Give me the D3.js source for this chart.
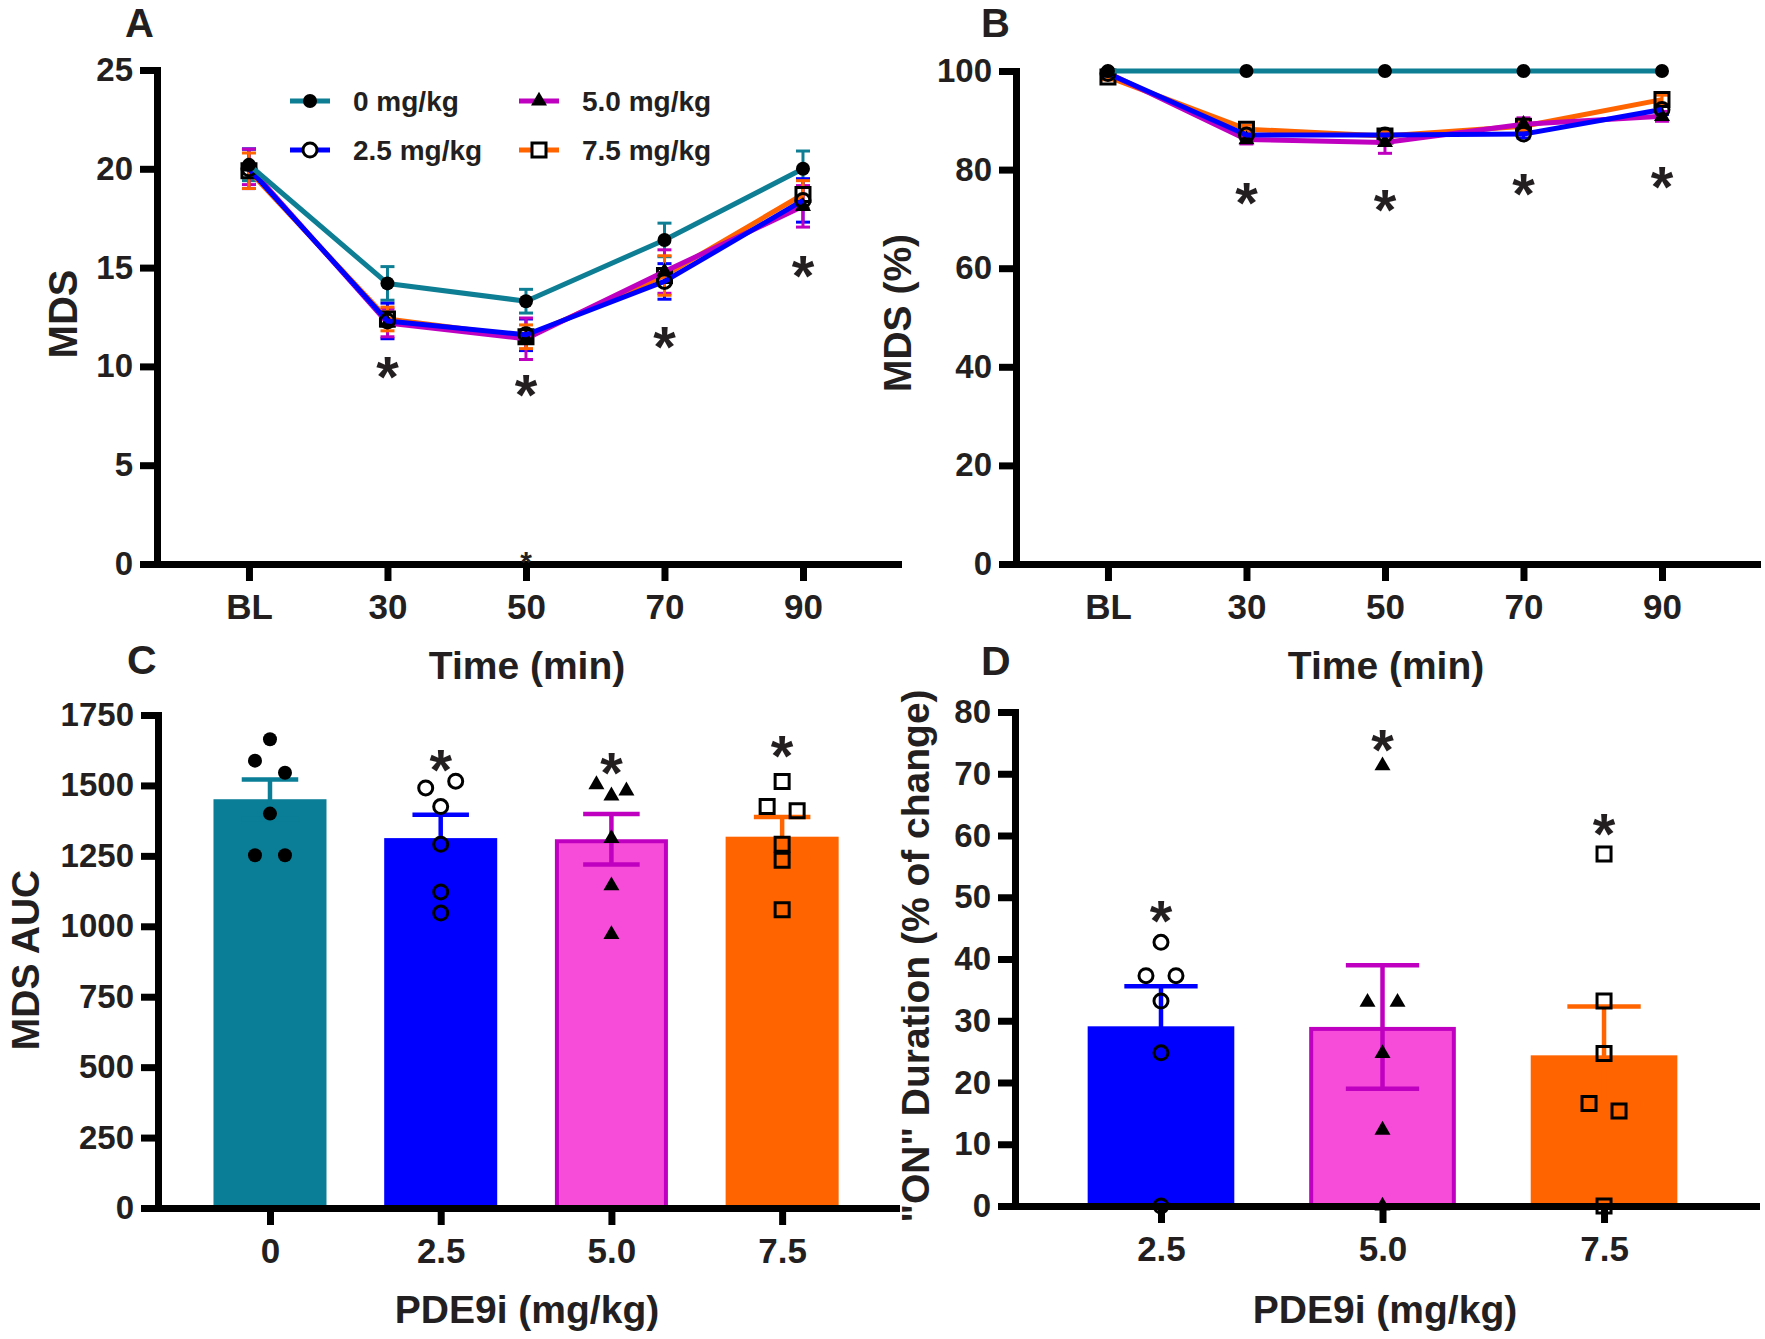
<!DOCTYPE html>
<html><head><meta charset="utf-8">
<script src="https://cdn.jsdelivr.net/npm/d3@7"></script>
<style>
body{margin:0;background:#fff;}
svg{display:block;background:#fff;}
</style></head><body>
<svg id="chart" width="1765" height="1339"></svg>
<script>
// ---------------- DATA ----------------
const timeLabels = ["BL", "30", "50", "70", "90"];
const seriesNames = ["0 mg/kg", "2.5 mg/kg", "5.0 mg/kg", "7.5 mg/kg"];

// Panel A: MDS (mean, SEM)
const mds0 = [20.2, 14.2, 13.3, 16.4, 20.0];
const mds0Sem = [0.8, 0.85, 0.6, 0.85, 0.9];
const mds25 = [20.0, 12.3, 11.6, 14.3, 18.4];
const mds25Sem = [1.0, 0.9, 0.8, 0.9, 1.1];
const mds50 = [20.1, 12.2, 11.4, 14.8, 18.1];
const mds50Sem = [0.9, 0.7, 1.05, 1.1, 1.05];
const mds75 = [19.9, 12.4, 11.5, 14.6, 18.7];
const mds75Sem = [0.9, 0.6, 0.6, 1.0, 0.7];
const mdsStars = [null, 10.1, 9.2, 11.6, 15.2];

// Panel B: MDS (%)
const pct0 = [100, 100, 100, 100, 100];
const pct0Sem = [0, 0, 0, 0, 0];
const pct25 = [99.5, 87.0, 87.0, 87.2, 92.2];
const pct25Sem = [0.5, 0.8, 1.0, 0.8, 1.0];
const pct50 = [99.6, 86.1, 85.5, 89.2, 90.8];
const pct50Sem = [0.4, 0.9, 2.2, 1.3, 1.0];
const pct75 = [98.8, 88.2, 86.8, 88.8, 94.2];
const pct75Sem = [0.6, 0.8, 1.0, 0.9, 0.9];
const pctStars = [null, 75.7, 74.3, 77.5, 79.0];

// Panel C: MDS AUC
const aucDoses = ["0", "2.5", "5.0", "7.5"];
const aucMean = [1451, 1313, 1309, 1318];
const aucSem = [70, 83, 90, 70];
const auc0 = [1664, 1588, 1545, 1400, 1252, 1252];
const auc25 = [1491, 1515, 1425, 1291, 1122, 1047];
const auc50 = [1503, 1463, 1481, 1312, 1144, 971];
const auc75 = [1514, 1425, 1410, 1291, 1234, 1059];
const aucStars = [null, 1598, 1590, 1647];

// Panel D: "ON" duration (% of change)
const onDoses = ["2.5", "5.0", "7.5"];
const onMean = [29.1, 29.0, 24.4];
const onSem = [6.5, 10.0, 7.9];
const on25 = [42.7, 37.3, 37.3, 33.2, 24.8, 0];
const on50 = [71.3, 33.0, 33.0, 24.7, 12.3, 0];
const on75 = [57.0, 33.2, 24.7, 16.6, 15.4, 0];
const onStars = [48.1, 75.9, 62.3];

// ---------------- STYLE ----------------
const FONT = '"Liberation Sans", Arial, Helvetica, sans-serif';
const TXT = "#231f20";
const C_TEAL = "#0d7e94", C_TEALBAR = "#0a7e96";
const C_BLUE = "#0000ff";
const C_MAG = "#c000c0", C_PINK = "#f74bd9";
const C_ORANGE = "#ff6400";
const AXW = 7;

const svg = d3.select("#chart");

function styleAxis(g, fs) {
  g.select(".domain").attr("stroke", "#000").attr("stroke-width", AXW).attr("stroke-linecap", "square");
  g.selectAll(".tick line").attr("stroke", "#000").attr("stroke-width", AXW);
  g.selectAll(".tick text").attr("font-size", fs).attr("font-family", FONT)
    .attr("font-weight", "bold").attr("fill", TXT);
}

function txt(x, y, s, fs, anchor, rot) {
  const t = svg.append("text").text(s).attr("font-family", FONT).attr("font-weight", "bold")
    .attr("font-size", fs).attr("fill", TXT).attr("text-anchor", anchor || "middle");
  if (rot) t.attr("transform", `translate(${x},${y}) rotate(${rot})`);
  else t.attr("x", x).attr("y", y);
  return t;
}

function star(g, cx, cy, fs) {
  fs = fs || 58;
  g.append("text").text("*").attr("x", cx).attr("y", cy + 0.56 * fs)
    .attr("font-family", FONT).attr("font-weight", "bold").attr("font-size", fs)
    .attr("fill", TXT).attr("text-anchor", "middle");
}

const symArea = { circle: Math.PI * 49, square: 196, triangle: Math.sqrt(3) / 4 * 256 };
function marker(g, type, filled, x, y, openFill) {
  const sym = type === "circle" ? d3.symbolCircle : type === "square" ? d3.symbolSquare : d3.symbolTriangle;
  const p = g.append("path").attr("d", d3.symbol().type(sym).size(symArea[type])())
    .attr("transform", `translate(${x},${y})`);
  if (filled) p.attr("fill", "#000");
  else p.attr("fill", openFill || "none").attr("stroke", "#000").attr("stroke-width", 3);
  return p;
}

// ---------------- TIME-COURSE PANELS ----------------
const seriesStyle = [
  { color: C_TEAL, type: "circle", filled: true },
  { color: C_BLUE, type: "circle", filled: false },
  { color: C_MAG, type: "triangle", filled: true },
  { color: C_ORANGE, type: "square", filled: false }
];

function timePanel(x0, x1, yBottom, yTop, ymax, yTicks, means, sems, stars) {
  const x = d3.scaleLinear().domain([-0.664, 4.686]).range([x0, x1]);
  const y = d3.scaleLinear().domain([0, ymax]).range([yBottom, yTop]);
  const g = svg.append("g");
  const capW = 14;
  means.forEach((m, si) => {
    m.forEach((v, i) => {
      const s = sems[si][i];
      if (!s) return;
      const cx = x(i);
      const eg = g.append("g").attr("stroke", seriesStyle[si].color).attr("stroke-width", 3);
      eg.append("line").attr("x1", cx).attr("x2", cx).attr("y1", y(v - s)).attr("y2", y(v + s));
      eg.append("line").attr("x1", cx - capW / 2).attr("x2", cx + capW / 2).attr("y1", y(v + s)).attr("y2", y(v + s));
      eg.append("line").attr("x1", cx - capW / 2).attr("x2", cx + capW / 2).attr("y1", y(v - s)).attr("y2", y(v - s));
    });
  });
  const line = d3.line().x((d, i) => x(i)).y(d => y(d));
  [3, 2, 1, 0].forEach(si => {
    g.append("path").attr("d", line(means[si])).attr("fill", "none")
      .attr("stroke", seriesStyle[si].color).attr("stroke-width", 5).attr("stroke-linejoin", "round");
    means[si].forEach((v, i) => marker(g, seriesStyle[si].type, seriesStyle[si].filled, x(i), y(v)));
  });
  svg.append("g").attr("transform", `translate(0,${yBottom})`)
    .call(d3.axisBottom(x).tickValues(d3.range(5)).tickFormat(i => timeLabels[i])
      .tickSize(17).tickSizeOuter(0).tickPadding(13))
    .call(a => styleAxis(a, 35));
  svg.append("g").attr("transform", `translate(${x0},0)`)
    .call(d3.axisLeft(y).tickValues(yTicks).tickFormat(d3.format("d")).tickSize(17).tickSizeOuter(0).tickPadding(7))
    .call(a => styleAxis(a, 33));
  const sg = svg.append("g");
  stars.forEach((v, i) => { if (v != null) star(sg, x(i), y(v)); });
  return { x, y, g: sg };
}

const pA = timePanel(157, 898, 564, 70, 25, [0, 5, 10, 15, 20, 25],
  [mds0, mds25, mds50, mds75], [mds0Sem, mds25Sem, mds50Sem, mds75Sem], mdsStars);
star(pA.g, pA.x(2), pA.y(0.45), 30);

timePanel(1016, 1757, 564, 71, 100, [0, 20, 40, 60, 80, 100],
  [pct0, pct25, pct50, pct75], [pct0Sem, pct25Sem, pct50Sem, pct75Sem], pctStars);

// legend (panel A)
const legPos = [[290, 101], [290, 150], [519, 101], [519, 150]];
seriesNames.forEach((name, si) => {
  const [lx, ly] = legPos[si];
  const lg = svg.append("g");
  lg.append("line").attr("x1", lx).attr("x2", lx + 40).attr("y1", ly).attr("y2", ly)
    .attr("stroke", seriesStyle[si].color).attr("stroke-width", 5);
  marker(lg, seriesStyle[si].type, seriesStyle[si].filled, lx + 20, ly, "#fff");
  txt(lx + 63, ly + 10, name, 28, "start");
});

// ---------------- BAR PANELS ----------------
const barStyle = [
  { fill: C_TEALBAR, stroke: null, err: C_TEALBAR, type: "circle", filled: true },
  { fill: C_BLUE, stroke: null, err: C_BLUE, type: "circle", filled: false },
  { fill: C_PINK, stroke: C_MAG, err: C_MAG, type: "triangle", filled: true },
  { fill: C_ORANGE, stroke: null, err: C_ORANGE, type: "square", filled: false }
];

function jitter(vals, y, thr) {
  const out = vals.map(() => 0);
  let i = 0;
  while (i < vals.length) {
    let j = i;
    while (j + 1 < vals.length && Math.abs(y(vals[j + 1]) - y(vals[j])) < thr) j++;
    const n = j - i + 1;
    for (let k = 0; k < n; k++) out[i + k] = n === 1 ? 0 : -1 + 2 * k / (n - 1);
    i = j + 1;
  }
  return out;
}

function barPanel(x0, x1, dom, yBottom, yTop, ymax, yTicks, labels, means, sems, pts, styles, stars) {
  const x = d3.scaleLinear().domain(dom).range([x0, x1]);
  const y = d3.scaleLinear().domain([0, ymax]).range([yBottom, yTop]);
  const step = x(1) - x(0);
  const bw = step * 0.662;
  const g = svg.append("g");
  means.forEach((m, i) => {
    const st = styles[i];
    const r = g.append("rect").attr("x", x(i) - bw / 2).attr("width", bw)
      .attr("y", y(m)).attr("height", y(0) - y(m)).attr("fill", st.fill);
    if (st.stroke) {
      r.attr("x", x(i) - bw / 2 + 2).attr("width", bw - 4).attr("y", y(m) + 2).attr("height", y(0) - y(m) - 2)
        .attr("stroke", st.stroke).attr("stroke-width", 4);
    }
  });
  means.forEach((m, i) => {
    const s = sems[i], cx = x(i), cw = bw / 2;
    const eg = g.append("g").attr("stroke", styles[i].err).attr("stroke-width", 4.5);
    eg.append("line").attr("x1", cx).attr("x2", cx).attr("y1", y(m - s)).attr("y2", y(m + s));
    eg.append("line").attr("x1", cx - cw / 2).attr("x2", cx + cw / 2).attr("y1", y(m + s)).attr("y2", y(m + s));
    eg.append("line").attr("x1", cx - cw / 2).attr("x2", cx + cw / 2).attr("y1", y(m - s)).attr("y2", y(m - s));
  });
  svg.append("g").attr("transform", `translate(0,${yBottom})`)
    .call(d3.axisBottom(x).tickValues(d3.range(labels.length)).tickFormat(i => labels[i])
      .tickSize(17).tickSizeOuter(0).tickPadding(13))
    .call(a => styleAxis(a, 35));
  svg.append("g").attr("transform", `translate(${x0},0)`)
    .call(d3.axisLeft(y).tickValues(yTicks).tickFormat(d3.format("d")).tickSize(17).tickSizeOuter(0).tickPadding(7))
    .call(a => styleAxis(a, 33));
  const pg = svg.append("g");
  pts.forEach((vals, i) => {
    const off = jitter(vals, y, 13);
    vals.forEach((v, k) => marker(pg, styles[i].type, styles[i].filled, x(i) + off[k] * 15, y(v)));
  });
  stars.forEach((v, i) => { if (v != null) star(pg, x(i), y(v)); });
  return { x, y };
}

barPanel(158, 896, [-0.656, 3.667], 1208, 715, 1750, d3.range(0, 1751, 250), aucDoses,
  aucMean, aucSem, [auc0, auc25, auc50, auc75], barStyle, aucStars);

barPanel(1015, 1756, [-0.659, 2.686], 1206, 712, 80, d3.range(0, 81, 10), onDoses,
  onMean, onSem, [on25, on50, on75], barStyle.slice(1), onStars);

// ---------------- TITLES ----------------
txt(77, 314, "MDS", 40, "middle", -90);
txt(911, 313, "MDS (%)", 39, "middle", -90);
txt(39, 960, "MDS AUC", 39, "middle", -90);
txt(929, 956, "\"ON\" Duration (% of change)", 39, "middle", -90);

txt(527, 679, "Time (min)", 39);
txt(1386, 679, "Time (min)", 39);
txt(527, 1323, "PDE9i (mg/kg)", 39);
txt(1385, 1323, "PDE9i (mg/kg)", 39);

// panel letters
txt(125, 37, "A", 40, "start");
txt(981, 37, "B", 40, "start");
txt(127, 674, "C", 41, "start");
txt(981, 675, "D", 41, "start");
</script>
</body></html>
